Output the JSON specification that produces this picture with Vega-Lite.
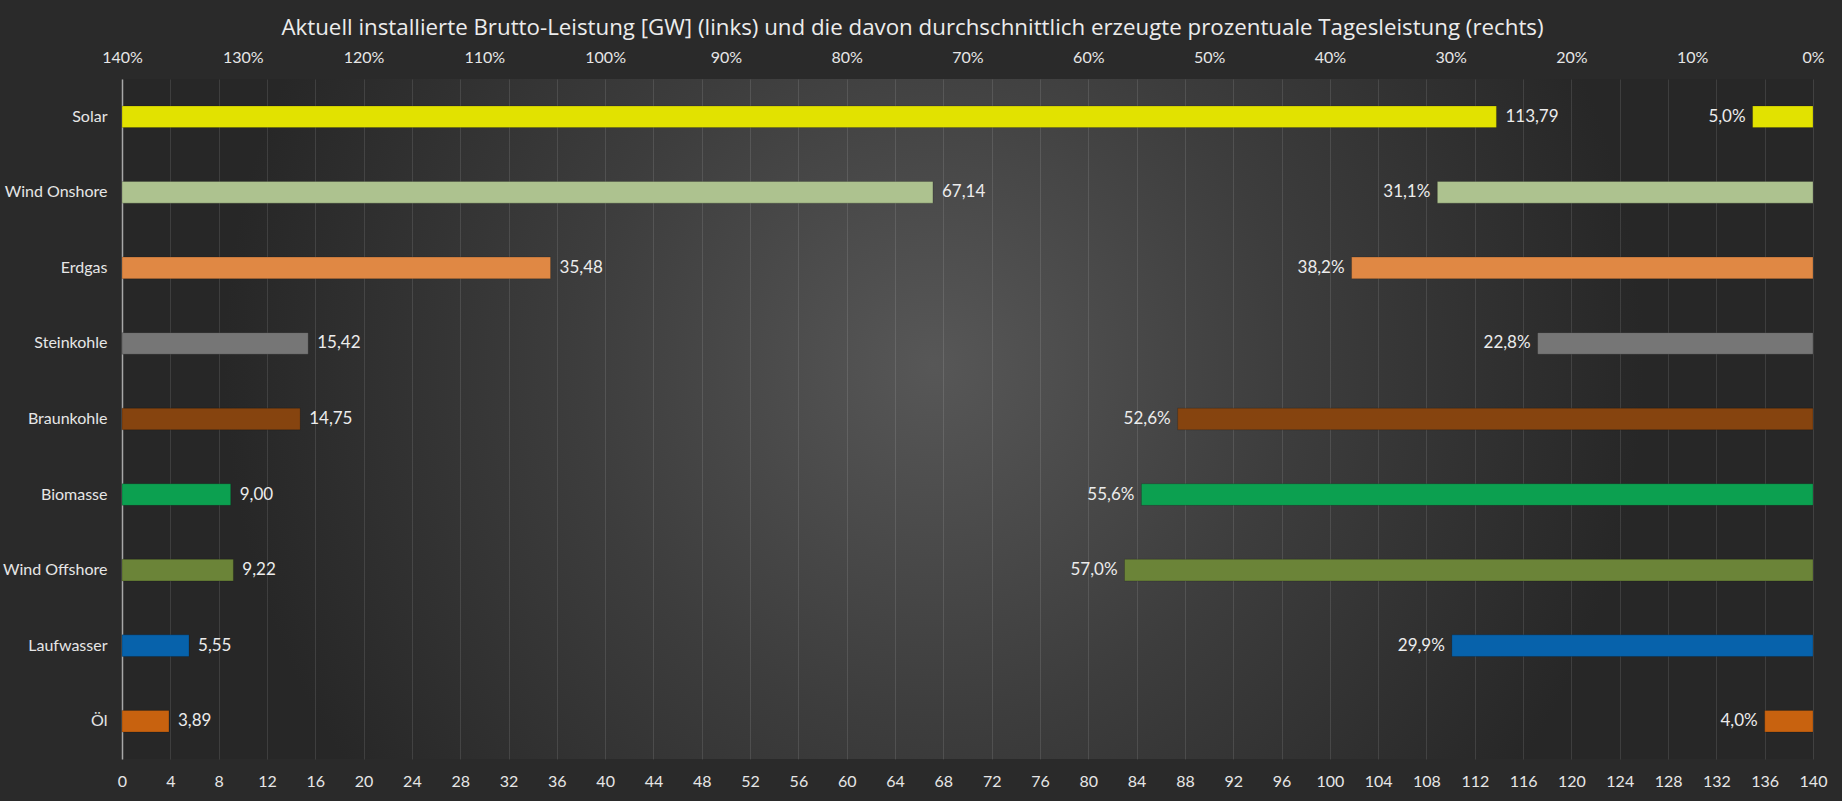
{
  "$schema": "https://vega.github.io/schema/vega-lite/v6.json",
  "autosize": {"type": "none"},
  "width": 1691,
  "height": 680,
  "padding": {"left": 122, "top": 79, "right": 29, "bottom": 42},
  "background": "#2a2a2a",
  "title": {
    "text": "Aktuell installierte Brutto-Leistung [GW] (links) und die davon durchschnittlich erzeugte prozentuale Tagesleistung (rechts)",
    "fontSize": 22.3,
    "fontWeight": "normal",
    "color": "#ececec",
    "font": "Open Sans",
    "anchor": "middle",
    "dx": -55,
    "offset": 10
  },
  "data": {
    "values": [
      {"quelle": "Solar", "leistung": 113.79, "anteil": 5.0},
      {"quelle": "Wind Onshore", "leistung": 67.14, "anteil": 31.1},
      {"quelle": "Erdgas", "leistung": 35.48, "anteil": 38.2},
      {"quelle": "Steinkohle", "leistung": 15.42, "anteil": 22.8},
      {"quelle": "Braunkohle", "leistung": 14.75, "anteil": 52.6},
      {"quelle": "Biomasse", "leistung": 9.0, "anteil": 55.6},
      {"quelle": "Wind Offshore", "leistung": 9.22, "anteil": 57.0},
      {"quelle": "Laufwasser", "leistung": 5.55, "anteil": 29.9},
      {"quelle": "Öl", "leistung": 3.89, "anteil": 4.0}
    ]
  },
  "transform": [
    {"calculate": "format(datum.anteil, '.1f') + '%'", "as": "anteil_label"}
  ],
  "encoding": {
    "y": {
      "field": "quelle",
      "type": "nominal",
      "sort": null,
      "title": null,
      "scale": {"paddingInner": 0.714, "paddingOuter": 0.357},
      "axis": {
        "domain": true,
        "domainColor": "#a8a8a8",
        "domainWidth": 1.5,
        "ticks": false,
        "labelPadding": 15,
        "labelFontSize": 16,
        "labelColor": "#e6e6e6",
        "labelFont": "Lato"
      }
    },
    "color": {
      "field": "quelle",
      "type": "nominal",
      "legend": null,
      "scale": {
        "domain": ["Solar", "Wind Onshore", "Erdgas", "Steinkohle", "Braunkohle", "Biomasse", "Wind Offshore", "Laufwasser", "Öl"],
        "range": ["#e2e200", "#adc28f", "#e08844", "#767676", "#86440f", "#0ca050", "#6b8438", "#0762ab", "#c8620f"]
      }
    }
  },
  "layer": [
    {
      "encoding": {
        "x": {
          "field": "leistung",
          "type": "quantitative",
          "title": null,
          "scale": {"domain": [0, 140], "nice": false},
          "axis": {
            "orient": "bottom",
            "values": [0, 4, 8, 12, 16, 20, 24, 28, 32, 36, 40, 44, 48, 52, 56, 60, 64, 68, 72, 76, 80, 84, 88, 92, 96, 100, 104, 108, 112, 116, 120, 124, 128, 132, 136, 140],
            "format": "d",
            "grid": true,
            "gridColor": "#ffffff",
            "gridOpacity": 0.11,
            "domain": false,
            "ticks": false,
            "labelFlush": false,
            "labelOverlap": false,
            "labelPadding": 14,
            "labelFontSize": 16,
            "labelColor": "#e6e6e6",
            "labelFont": "Lato"
          }
        }
      },
      "layer": [
        {"mark": {"type": "bar", "stroke": "#000000", "strokeOpacity": 0.18, "strokeWidth": 1}},
        {
          "mark": {"type": "text", "align": "left", "baseline": "middle", "dx": 9, "fontSize": 17, "font": "Lato"},
          "encoding": {
            "text": {"field": "leistung", "type": "quantitative", "format": ".2f"},
            "color": {"value": "#ececec"}
          }
        }
      ]
    },
    {
      "encoding": {
        "x": {
          "field": "anteil",
          "type": "quantitative",
          "title": null,
          "scale": {"domain": [0, 140], "nice": false, "reverse": true},
          "axis": {
            "orient": "top",
            "values": [0, 10, 20, 30, 40, 50, 60, 70, 80, 90, 100, 110, 120, 130, 140],
            "labelExpr": "datum.value + '%'",
            "grid": false,
            "domain": false,
            "ticks": false,
            "labelFlush": false,
            "labelOverlap": false,
            "labelPadding": 14,
            "labelFontSize": 16,
            "labelColor": "#e6e6e6",
            "labelFont": "Lato"
          }
        }
      },
      "layer": [
        {"mark": {"type": "bar", "stroke": "#000000", "strokeOpacity": 0.18, "strokeWidth": 1}},
        {
          "mark": {"type": "text", "align": "right", "baseline": "middle", "dx": -7, "fontSize": 17, "font": "Lato"},
          "encoding": {
            "text": {"field": "anteil_label", "type": "nominal"},
            "color": {"value": "#ececec"}
          }
        }
      ]
    }
  ],
  "resolve": {"scale": {"x": "independent"}, "axis": {"x": "independent"}},
  "config": {
    "locale": {
      "number": {"decimal": ",", "thousands": ".", "grouping": [3], "currency": ["", " €"]}
    },
    "font": "Lato",
    "view": {
      "stroke": null,
      "fill": {
        "expr": "{gradient: 'radial', x1: 0.48, y1: 0.468, r1: 0, x2: 0.48, y2: 0.468, r2: 0.42, stops: [{offset: 0, color: '#575757'}, {offset: 0.5, color: '#3d3d3d'}, {offset: 1, color: '#272727'}]}"
      }
    }
  }
}
